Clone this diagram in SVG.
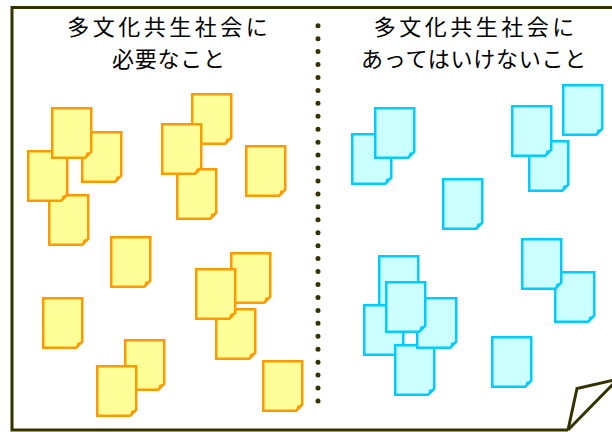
<svg xmlns="http://www.w3.org/2000/svg" xmlns:xlink="http://www.w3.org/1999/xlink" width="612" height="432" viewBox="0 0 612 432">
<style>
.frame{fill:none;stroke:#333300;stroke-width:3;stroke-linejoin:miter}
.dots{fill:none;stroke:#333300;stroke-width:5;stroke-linecap:round;stroke-dasharray:0 12.94}
.title{font-family:"Noto Sans CJK JP","Noto Sans",sans-serif;font-size:22px;fill:#000;text-anchor:middle}
.l1{letter-spacing:3.5px}
.l2{letter-spacing:0.75px}
.yb{fill:#FFFF99;stroke:#FF9900;stroke-width:2.5}
.yf{fill:#FF9900}
.bb{fill:#CCFFFF;stroke:#00CCFF;stroke-width:2.5}
.bf{fill:#00CCFF}
</style>
<defs>
<g id="ynote"><path class="yb" d="M0,0H39V43.5L33,49.5H0Z"/><path class="yf" d="M33,49.5L39,43.5L34,44.5Z"/></g>
<g id="bnote"><path class="bb" d="M0,0H39V43.5L33,49.5H0Z"/><path class="bf" d="M33,49.5L39,43.5L34,44.5Z"/></g>
</defs>
<rect width="612" height="432" fill="#fff"/>
<g id="frame">
<path class="frame" d="M614,7.5H12V430H568"/>
<path class="frame" d="M568,430L577,388.5L614,380"/>
<path class="frame" d="M568,430L614,383"/>
</g>
<g id="divider"><path class="dots" d="M318,25.7V402"/></g>
<g id="title-left"><text class="title"><tspan class="l1" x="169.25" y="34.5">多文化共生社会に</tspan><tspan class="l2" x="169" y="66.5">必要なこと</tspan></text></g>
<g id="title-right"><text class="title"><tspan class="l1" x="475.75" y="34.5">多文化共生社会に</tspan><tspan class="l2" x="474" y="66.5">あってはいけないこと</tspan></text></g>
<g id="yellow-notes">
<use href="#ynote" x="49.25" y="195.25"/>
<use href="#ynote" x="28.25" y="151.25"/>
<use href="#ynote" x="82.25" y="132.25"/>
<use href="#ynote" x="52.25" y="108.25"/>
<use href="#ynote" x="192.25" y="94.25"/>
<use href="#ynote" x="177.25" y="169.25"/>
<use href="#ynote" x="162.25" y="124.25"/>
<use href="#ynote" x="246.25" y="146.25"/>
<use href="#ynote" x="111.25" y="237.25"/>
<use href="#ynote" x="231.25" y="253.25"/>
<use href="#ynote" x="216.25" y="309.25"/>
<use href="#ynote" x="196.25" y="269.25"/>
<use href="#ynote" x="263.25" y="361.25"/>
<use href="#ynote" x="43.25" y="298.25"/>
<use href="#ynote" x="125.25" y="340.25"/>
<use href="#ynote" x="97.25" y="366.25"/>
</g>
<g id="blue-notes">
<use href="#bnote" x="352.25" y="134.25"/>
<use href="#bnote" x="375.25" y="108.25"/>
<use href="#bnote" x="443.25" y="179.25"/>
<use href="#bnote" x="529.25" y="141.25"/>
<use href="#bnote" x="512.25" y="106.25"/>
<use href="#bnote" x="563.25" y="85.25"/>
<use href="#bnote" x="555.25" y="272.25"/>
<use href="#bnote" x="522.25" y="239.25"/>
<use href="#bnote" x="379.25" y="256.25"/>
<use href="#bnote" x="364.25" y="305.25"/>
<use href="#bnote" x="395.25" y="345.25"/>
<use href="#bnote" x="417.25" y="298.25"/>
<use href="#bnote" x="386.25" y="282.25"/>
<use href="#bnote" x="492.25" y="337.25"/>
</g>
</svg>
